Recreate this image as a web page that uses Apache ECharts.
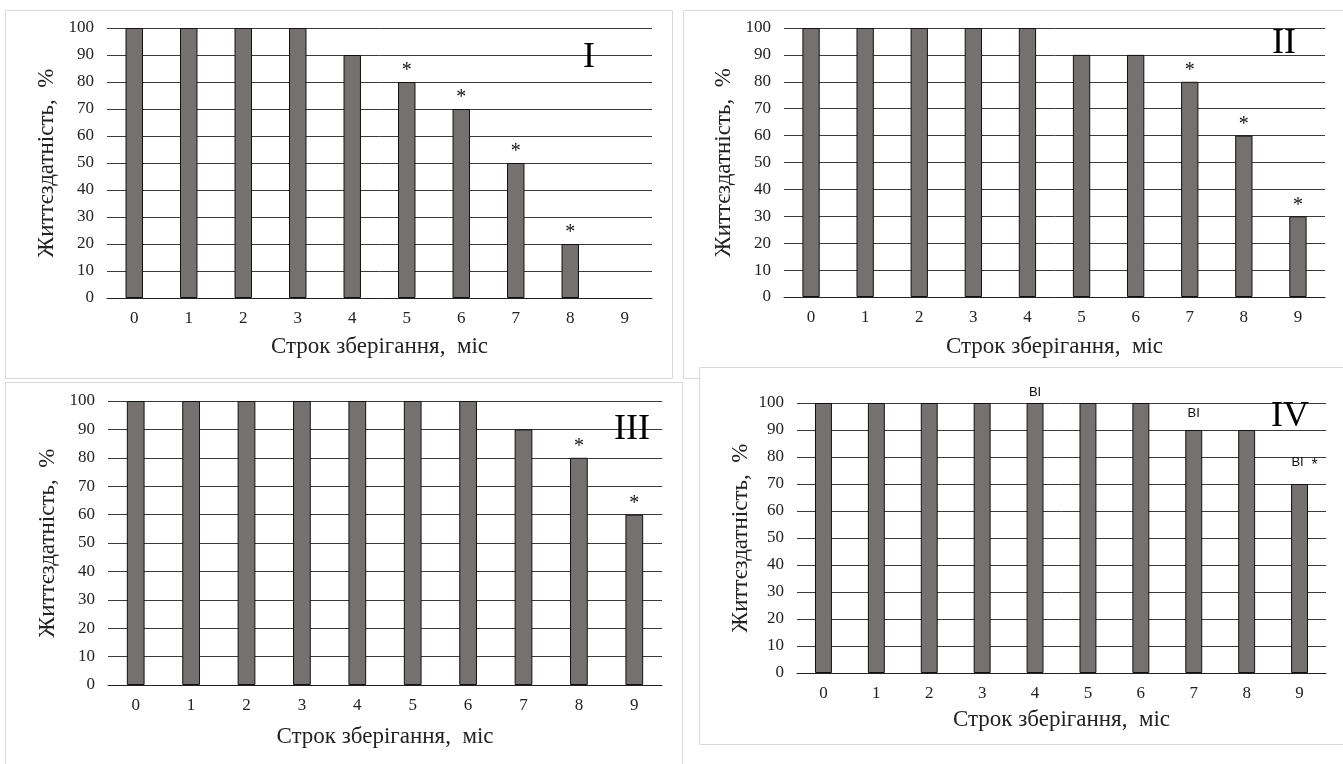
<!DOCTYPE html>
<html>
<head>
<meta charset="utf-8">
<script src="https://cdn.jsdelivr.net/npm/echarts@6/dist/echarts.min.js"></script>
<style>
html,body{margin:0;padding:0;background:#fff;}
#c{width:1343px;height:764px;}
</style>
</head>
<body>
<div id="c"></div>
<script>
// ---- data ----
const categories = ['0','1','2','3','4','5','6','7','8','9'];
const yTicks = [0,10,20,30,40,50,60,70,80,90,100];
const valuesI   = [100,100,100,100,90,80,70,50,20,0];
const valuesII  = [100,100,100,100,100,90,90,80,60,30];
const valuesIII = [100,100,100,100,100,100,100,90,80,60];
const valuesIV  = [100,100,100,100,100,100,100,90,90,70];
const marksI   = ['','','','','','*','*','*','*',''];
const marksII  = ['','','','','','','','*','*','*'];
const marksIII = ['','','','','','','','','*','*'];
const marksIV  = ['','','','','BI','','','BI','','BI*'];
const panelNames = ['I','II','III','IV'];
const xTitle = 'Строк зберігання,  міс';
const yTitle = 'Життєздатність,  %';

// ---- layout ----
const grids = [
  {left:107, top:28,  width:545, height:270},
  {left:784, top:28,  width:541, height:269},
  {left:108, top:401, width:554, height:284},
  {left:797, top:403, width:529, height:270}
];
const xNameGaps = [37, 38, 40, 35];
const yNameGaps = [49, 49, 49, 45];
const serif = '"Liberation Serif","Times New Roman",serif';
const sans = '"Liberation Sans",Arial,sans-serif';
const barColor = '#767171';

function buildData(values, marks, idx){
  return values.map((v,i)=>{
    const m = marks[i];
    const item = {value:v};
    if(v === 0) item.itemStyle = {borderWidth:0};
    if(!m) return item;
    if(idx === 3){
      const fmt = (m === 'BI*') ? '{p|}{b|BI}{s|*}' : '{b|BI}';
      const dist = (i === 4) ? 4 : 10;
      item.label = {show:true, position:'top', distance:dist, formatter:fmt,
        rich:{
          b:{fontFamily:sans, fontSize:13, color:'#111'},
          p:{width:14},
          s:{width:14, fontFamily:sans, fontSize:16, color:'#111', padding:[8,0,0,4]}
        }};
      return item;
    }
    item.label = {show:true, position:'top', distance:1, formatter:m,
      fontFamily:serif, fontSize:20, color:'#111'};
    return item;
  });
}

const allValues = [valuesI, valuesII, valuesIII, valuesIV];
const allMarks = [marksI, marksII, marksIII, marksIV];

const option = {
  animation:false,
  backgroundColor:'#fff',
  grid: grids,
  xAxis: grids.map((g,i)=>({
    type:'category', gridIndex:i, data:categories,
    axisLine:{show:true, lineStyle:{color:'#222', width:1}},
    axisTick:{show:false},
    axisLabel:{fontFamily:serif, fontSize:17, color:'#222', margin:12},
    name:xTitle, nameLocation:'middle', nameGap:xNameGaps[i],
    nameTextStyle:{fontFamily:serif, fontSize:23, color:'#222'}
  })),
  yAxis: grids.map((g,i)=>({
    type:'value', gridIndex:i, min:yTicks[0], max:yTicks[yTicks.length-1], interval:yTicks[1]-yTicks[0],
    axisLine:{show:false}, axisTick:{show:false},
    axisLabel:{fontFamily:serif, fontSize:17, color:'#222', margin:13},
    splitLine:{show:true, lineStyle:{color:'#3a3a3a', width:1}},
    name:yTitle, nameLocation:'middle', nameGap:yNameGaps[i], nameRotate:90,
    nameTextStyle:{fontFamily:serif, fontSize:23, color:'#222'}
  })),
  series: allValues.map((vals,i)=>({
    type:'bar', xAxisIndex:i, yAxisIndex:i,
    data: buildData(vals, allMarks[i], i),
    barWidth:'32%',
    itemStyle:{color:barColor, borderColor:'#111', borderWidth:1},
    label:{show:false}
  })),
  graphic: [
    {type:'rect', shape:{x:5.5,y:10.5,width:667,height:368}, style:{fill:'#fff', stroke:'#d9d9d9', lineWidth:1}, z:-10},
    {type:'rect', shape:{x:683.5,y:10.5,width:660,height:368}, style:{fill:'#fff', stroke:'#d9d9d9', lineWidth:1}, z:-10},
    {type:'rect', shape:{x:5.5,y:382.5,width:677,height:390}, style:{fill:'#fff', stroke:'#d9d9d9', lineWidth:1}, z:-10},
    {type:'rect', shape:{x:699.5,y:367.5,width:644,height:377}, style:{fill:'#fff', stroke:'#d9d9d9', lineWidth:1}, z:-9},
    {type:'text', left:583, top:40, style:{text:panelNames[0], font:'36px '+serif, fill:'#000'}, z:10},
    {type:'text', left:1272, top:26, style:{text:panelNames[1], font:'36px '+serif, fill:'#000'}, z:10},
    {type:'text', left:614, top:412, style:{text:panelNames[2], font:'36px '+serif, fill:'#000'}, z:10},
    {type:'text', left:1271, top:399, style:{text:panelNames[3], font:'36px '+serif, fill:'#000'}, z:10}
  ]
};

const chart = echarts.init(document.getElementById('c'), null, {renderer:'canvas'});
chart.setOption(option);
</script>
</body>
</html>
